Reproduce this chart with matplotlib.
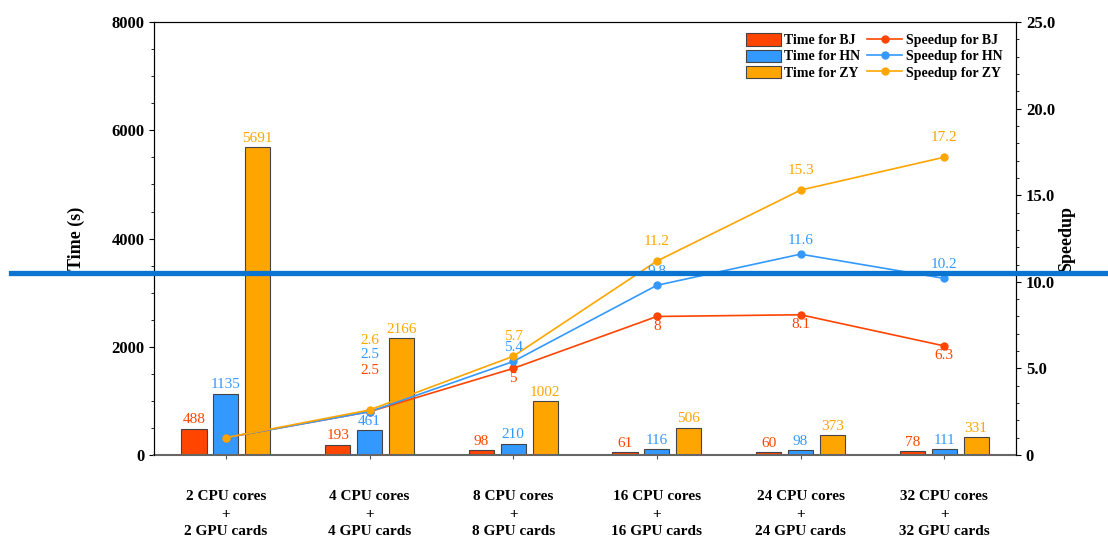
import numpy as np
import matplotlib
matplotlib.use("Agg")
import matplotlib.pyplot as plt
from matplotlib.lines import Line2D
from matplotlib.ticker import MultipleLocator, FuncFormatter

plt.rcParams['font.family'] = ['Liberation Serif', 'DejaVu Serif']

configs = ["2 CPU cores\n+\n2 GPU cards", "4 CPU cores\n+\n4 GPU cards",
           "8 CPU cores\n+\n8 GPU cards", "16 CPU cores\n+\n16 GPU cards",
           "24 CPU cores\n+\n24 GPU cards", "32 CPU cores\n+\n32 GPU cards"]
time_bj = [488, 193, 98, 61, 60, 78]
time_hn = [1135, 461, 210, 116, 98, 111]
time_zy = [5691, 2166, 1002, 506, 373, 331]
speed_bj = [1, 2.5, 5, 8, 8.1, 6.3]
speed_hn = [1, 2.5, 5.4, 9.8, 11.6, 10.2]
speed_zy = [1, 2.6, 5.7, 11.2, 15.3, 17.2]

c_bj = '#FF4500'
c_hn = '#3399FF'
c_zy = '#FFA500'

fig = plt.figure(figsize=(11.08, 5.41), dpi=100)
ax = fig.add_axes([0.139, 0.159, 0.778, 0.8])
ax2 = ax.twinx()

x = np.arange(len(configs))
w = 0.175
off = 0.222
for times, c, dx, name in [(time_bj, c_bj, -off, 'BJ'), (time_hn, c_hn, 0, 'HN'), (time_zy, c_zy, off, 'ZY')]:
    ax.bar(x + dx, times, w, color=c, edgecolor='#444444', linewidth=0.8, label='Time for ' + name, zorder=2)
    for xi, t in zip(x, times):
        ax.text(xi + dx, t + 40, str(t), ha='center', va='bottom', color=c, fontsize=11)

ax.set_xlim(-0.5, len(configs) - 0.5)
ax.set_ylim(0, 8000)
ax.yaxis.set_major_locator(MultipleLocator(2000))
ax.yaxis.set_minor_locator(MultipleLocator(500))
ax.set_xticks(x)
ax.set_xticklabels(configs, fontweight='bold', fontsize=11, linespacing=1.45)
ax.tick_params(axis='x', length=3, pad=22.5, color='#555555')
ax.tick_params(axis='y', labelsize=12)
for lab in ax.get_yticklabels():
    lab.set_fontweight('bold')
ax.set_ylabel('Time (s)', fontweight='bold', fontsize=13, labelpad=19)
ax.spines['bottom'].set_color('#666666')
ax.spines['bottom'].set_linewidth(1.5)

for sp, c, name in [(speed_bj, c_bj, 'BJ'), (speed_hn, c_hn, 'HN'), (speed_zy, c_zy, 'ZY')]:
    ax2.plot(x, sp, color=c, marker='o', markersize=5, linewidth=1.2, label='Speedup for ' + name)

# speedup labels, offsets in points from each marker (first point has none)
for i in range(1, len(x)):
    if i == 1:
        offs = (30, 41, 50)
    else:
        offs = (-7.2, 10, 14)
    for sp, c, dy in [(speed_bj, c_bj, offs[0]), (speed_hn, c_hn, offs[1]), (speed_zy, c_zy, offs[2])]:
        ax2.annotate(f"{sp[i]:g}", (x[i], sp[i]), xytext=(0, dy), textcoords='offset points',
                     ha='center', va='center', color=c, fontsize=11)

ax2.set_ylim(0, 25)
ax2.yaxis.set_major_locator(MultipleLocator(5))
ax2.yaxis.set_minor_locator(MultipleLocator(1))
ax2.yaxis.set_major_formatter(FuncFormatter(lambda v, p: '0' if v == 0 else f"{v:.1f}"))
ax2.tick_params(axis='y', labelsize=12)
for lab in ax2.get_yticklabels():
    lab.set_fontweight('bold')
ax2.set_ylabel('Speedup', fontweight='bold', fontsize=13, labelpad=2)
ax2.spines['bottom'].set_visible(False)

h1, l1 = ax.get_legend_handles_labels()
h2, l2 = ax2.get_legend_handles_labels()
ax2.legend(h1 + h2, l1 + l2, ncol=2, loc='upper right', frameon=False,
           prop={'weight': 'bold', 'size': 10}, handlelength=2.5, handleheight=1.0,
           labelspacing=0.15, columnspacing=0.5, handletextpad=0.25, borderpad=0,
           bbox_to_anchor=(0.992, 0.99))

# thick blue rule across the figure
fig.add_artist(Line2D([0.01, 1.0], [1 - 273 / 541, 1 - 273 / 541], color='#0A74D0',
                      linewidth=3.8, transform=fig.transFigure))

fig.savefig('out.png', dpi=100)
